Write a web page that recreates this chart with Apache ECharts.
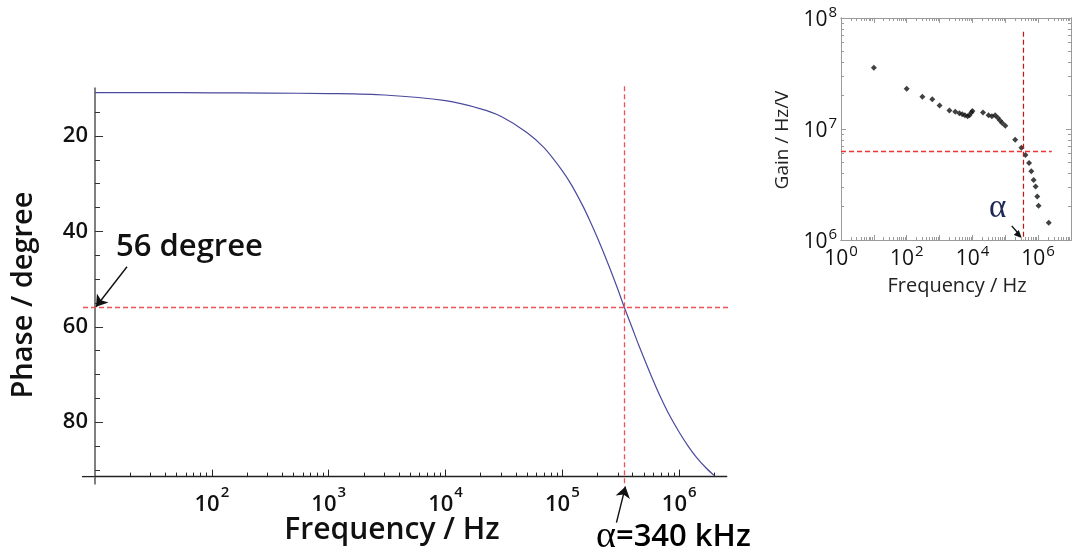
<!DOCTYPE html>
<html>
<head>
<meta charset="utf-8">
<script src="https://cdn.jsdelivr.net/npm/echarts@6/dist/echarts.min.js"></script>
<style>
  html, body { margin: 0; padding: 0; background: #fff; }
  #chart { width: 1072px; height: 557px; }
</style>
</head>
<body>
<div id="chart"></div>
<script>
// Phase response of the feedback loop (main panel)
const phaseFreq = [10, 30, 100, 300, 1000, 3000, 10000, 20000, 30000, 50000, 70000, 100000, 120000, 150000, 170000, 200000, 250000, 300000, 340000, 400000, 450000, 600000, 700000, 800000, 1000000, 1200000, 1400000, 1700000, 2000000];
const phaseDeg  = [10.9, 10.9, 10.95, 11.0, 11.1, 11.4, 12.6, 14.3, 15.9, 19.3, 22.5, 27.3, 30.3, 34.7, 37.5, 41.4, 47.2, 52.3, 56.0, 60.5, 63.8, 71.3, 75.0, 77.9, 82.1, 85.1, 87.3, 89.6, 91.2];

// Measured gain (inset panel)
const gainFreq = [10, 100, 300, 600, 1000, 2000, 3000, 4000, 4900, 5900, 7100, 8100, 9300, 10000, 21000, 31000, 39000, 49000, 59000, 69000, 81000, 100000, 200000, 310000, 410000, 530000, 620000, 730000, 840000, 940000, 1030000, 2100000];
const gainVal  = [3.56e7, 2.31e7, 1.95e7, 1.85e7, 1.63e7, 1.47e7, 1.43e7, 1.39e7, 1.36e7, 1.33e7, 1.30e7, 1.33e7, 1.41e7, 1.45e7, 1.41e7, 1.33e7, 1.30e7, 1.33e7, 1.26e7, 1.19e7, 1.13e7, 1.07e7, 8.0e6, 6.77e6, 5.82e6, 4.93e6, 4.17e6, 3.48e6, 3.03e6, 2.47e6, 2.04e6, 1.43e6];

// Tick values
const phaseTicks = [20, 40, 60, 80];
const phaseMinorTicks = [15, 25, 30, 35, 45, 50, 55, 65, 70, 75, 85, 90];
const freqTicks = [1e2, 1e3, 1e4, 1e5, 1e6];
const insetFreqTicks = [1, 1e1, 1e2, 1e3, 1e4, 1e5, 1e6, 1e7];
const insetFreqLabels = [1, 1e2, 1e4, 1e6];
const insetGainTicks = [1e6, 1e7, 1e8];

// Marked crossing point
const alphaFreq = 340000;
const alphaPhase = 56;
const alphaGain = 6.3e6;

// Axis ranges
const freqMin = 10, freqMax = 2.55e6;
const phaseMin = 10, phaseMax = 91.4;
const insetFreqMin = 1, insetFreqMax = 1e7;
const insetGainMin = 1e6, insetGainMax = 1e8;

const FONT = "'Open Sans', 'Noto Sans', sans-serif";
const SERIF = "'Liberation Serif', 'DejaVu Serif', serif";

// 2..9 x 10^n between lo and hi
function logMinors(lo, hi) {
  const out = [];
  for (let e = Math.floor(Math.log10(lo)); e <= Math.ceil(Math.log10(hi)); e++) {
    for (let k = 2; k <= 9; k++) {
      const v = k * Math.pow(10, e);
      if (v > lo && v < hi) out.push(v);
    }
  }
  return out;
}

function powLabel(v) {
  return '{b|10}{s|' + Math.round(Math.log10(v)) + '}';
}

const mainRich = {
  b: { fontFamily: FONT, fontSize: 22, fontWeight: 600, color: '#111', lineHeight: 30, verticalAlign: 'bottom' },
  s: { fontFamily: FONT, fontSize: 15, fontWeight: 600, color: '#111', lineHeight: 30, verticalAlign: 'top', padding: [0, 0, 0, 1] }
};
const insetRich = {
  b: { fontFamily: FONT, fontSize: 21, color: '#111', lineHeight: 26, verticalAlign: 'bottom' },
  s: { fontFamily: FONT, fontSize: 15, color: '#111', lineHeight: 26, verticalAlign: 'top', padding: [0, 0, 0, 1] }
};

const insetLine = { color: '#9a9a9a', width: 1 };

function insetXAxis(position, ticks, len, labels) {
  return {
    type: 'log', gridIndex: 1, position: position, offset: 0, min: insetFreqMin, max: insetFreqMax,
    axisLine: { show: true, onZero: false, lineStyle: insetLine },
    axisTick: { show: true, inside: true, length: len, customValues: ticks, lineStyle: insetLine },
    axisLabel: labels ? { show: true, customValues: insetFreqLabels, formatter: powLabel, rich: insetRich, margin: 4 } : { show: false },
    splitLine: { show: false }, minorTick: { show: false }
  };
}
function insetYAxis(position, ticks, len, labels) {
  return {
    type: 'log', gridIndex: 1, position: position, offset: 0, min: insetGainMin, max: insetGainMax,
    axisLine: { show: true, onZero: false, lineStyle: insetLine },
    axisTick: { show: true, inside: true, length: len, customValues: ticks, lineStyle: insetLine },
    axisLabel: labels ? { show: true, customValues: insetGainTicks, formatter: powLabel, rich: insetRich, margin: 4 } : { show: false },
    splitLine: { show: false }, minorTick: { show: false }
  };
}

const phaseData = phaseFreq.map((f, i) => [f, phaseDeg[i]]);
const gainData = gainFreq.map((f, i) => [f, gainVal[i]]);

const option = {
  animation: false,
  backgroundColor: '#fff',
  grid: [
    { left: 95, top: 88.3, width: 631.7, height: 388.3 },
    { left: 841, top: 18, width: 230, height: 222 }
  ],
  xAxis: [
    {
      type: 'log', gridIndex: 0, position: 'bottom', min: freqMin, max: freqMax,
      axisLine: { show: true, onZero: false, lineStyle: { color: '#222', width: 1.3 } },
      axisTick: { show: true, inside: true, length: 7, customValues: freqTicks, lineStyle: { color: '#222', width: 1 } },
      axisLabel: { show: true, customValues: freqTicks, formatter: powLabel, rich: mainRich, margin: 9 },
      splitLine: { show: false }
    },
    {
      type: 'log', gridIndex: 0, position: 'bottom', offset: 0, min: freqMin, max: freqMax,
      axisLine: { show: false, onZero: false },
      axisTick: { show: true, inside: true, length: 4, customValues: logMinors(freqMin, freqMax), lineStyle: { color: '#222', width: 1 } },
      axisLabel: { show: false }, splitLine: { show: false }
    },
    insetXAxis('bottom', insetFreqTicks, 5, true),
    insetXAxis('bottom', logMinors(insetFreqMin, insetFreqMax), 3, false),
    insetXAxis('top', insetFreqTicks, 5, false),
    insetXAxis('top', logMinors(insetFreqMin, insetFreqMax), 3, false)
  ],
  yAxis: [
    {
      type: 'value', gridIndex: 0, position: 'left', inverse: true, min: phaseMin, max: phaseMax,
      axisLine: { show: true, onZero: false, lineStyle: { color: '#808080', width: 2 } },
      axisTick: { show: true, inside: true, length: 8, customValues: phaseTicks, lineStyle: { color: '#333', width: 1 } },
      axisLabel: { show: true, customValues: phaseTicks, margin: 7, fontFamily: FONT, fontSize: 22, fontWeight: 600, color: '#111' },
      splitLine: { show: false }
    },
    {
      type: 'value', gridIndex: 0, position: 'left', offset: 0, inverse: true, min: phaseMin, max: phaseMax,
      axisLine: { show: false, onZero: false },
      axisTick: { show: true, inside: true, length: 5, customValues: phaseMinorTicks, lineStyle: { color: '#333', width: 1 } },
      axisLabel: { show: false }, splitLine: { show: false }
    },
    insetYAxis('left', insetGainTicks, 5, true),
    insetYAxis('left', logMinors(insetGainMin, insetGainMax), 3, false),
    insetYAxis('right', insetGainTicks, 5, false),
    insetYAxis('right', logMinors(insetGainMin, insetGainMax), 3, false)
  ],
  series: [
    {
      name: 'Phase', type: 'line', xAxisIndex: 0, yAxisIndex: 0,
      data: phaseData, smooth: 0.3, showSymbol: false,
      lineStyle: { color: '#4a4a9e', width: 1.2 },
      clip: true, z: 3
    },
    {
      name: 'Gain', type: 'scatter', xAxisIndex: 2, yAxisIndex: 2,
      data: gainData, symbol: 'diamond', symbolSize: 6,
      itemStyle: { color: '#111' }, z: 3
    }
  ]
};

const chart = echarts.init(document.getElementById('chart'), null, { renderer: 'canvas' });
chart.setOption(option);

// Guide lines, arrows and annotations placed from the axis scales
const P = (f, v) => chart.convertToPixel({ xAxisIndex: 0, yAxisIndex: 0 }, [f, v]);
const Q = (f, g) => chart.convertToPixel({ xAxisIndex: 2, yAxisIndex: 2 }, [f, g]);

const origin = P(freqMin, phaseMax);
const plotTop = P(freqMin, phaseMin)[1];
const plotRight = P(freqMax, phaseMax)[0];
const cross = P(alphaFreq, alphaPhase);
const insetCross = Q(alphaFreq, insetGainMin);
const insetH0 = Q(insetFreqMin, alphaGain);
const insetH1 = Q(2.6e6, alphaGain);
const insetVTop = Q(alphaFreq, 7.5e7);
const hY = Math.round(insetH0[1]) + 0.5;
const vX = Math.round(insetCross[0]) + 0.5;

const guideStyle = { color: '#f0505a', type: [5, 3], width: 1.3 };
const arrowStyle = { color: '#111', type: 'solid', width: 1.4 };

function seg(a, b, style) {
  return [ { x: a[0], y: a[1], lineStyle: style }, { x: b[0], y: b[1], lineStyle: style } ];
}
function arrow(a, b) {
  return [ { x: a[0], y: a[1], lineStyle: arrowStyle, symbol: 'none' },
           { x: b[0], y: b[1], lineStyle: arrowStyle, symbol: 'arrow', symbolSize: 11 } ];
}

chart.setOption({
  series: [
    {
      markLine: {
        silent: true, label: { show: false }, symbol: ['none', 'none'], symbolSize: 12,
        data: [
          seg([origin[0] - 12, cross[1]], [plotRight + 2, cross[1]], guideStyle),
          seg([cross[0], plotTop - 2], [cross[0], origin[1] + 10], guideStyle),
          arrow([origin[0] + 32, cross[1] - 41], [origin[0] + 1, cross[1] - 1]),
          arrow([cross[0] - 8, origin[1] + 46], [cross[0] + 1, origin[1] + 10])
        ]
      }
    },
    {}
  ],
  graphic: [
    // axis lines meeting past the origin
    { type: 'line', shape: { x1: origin[0] - 13, y1: origin[1], x2: origin[0], y2: origin[1] }, style: { stroke: '#222', lineWidth: 1.3 } },
    { type: 'line', shape: { x1: origin[0], y1: origin[1], x2: origin[0], y2: origin[1] + 8 }, style: { stroke: '#808080', lineWidth: 2 } },
    // inset guide lines through the crossing point
    { type: 'line', z: 10, shape: { x1: insetH0[0], y1: hY, x2: insetH1[0], y2: hY }, style: { stroke: '#ee3333', lineWidth: 1.3, lineDash: [5, 3] } },
    { type: 'line', z: 10, shape: { x1: vX, y1: insetVTop[1], x2: vX, y2: insetCross[1] }, style: { stroke: '#cc1111', lineWidth: 1.2, lineDash: [5, 3] } },
    // inset arrow to the crossing frequency
    { type: 'line', shape: { x1: insetCross[0] - 11, y1: insetCross[1] - 14, x2: insetCross[0] - 3, y2: insetCross[1] - 5 }, style: { stroke: '#111', lineWidth: 1.3 } },
    { type: 'polygon', shape: { points: [[insetCross[0] - 1, insetCross[1] - 2], [insetCross[0] - 9, insetCross[1] - 5], [insetCross[0] - 4, insetCross[1] - 10]] }, style: { fill: '#111' } },
    // axis titles
    { type: 'text', x: 392, y: 530, style: { text: 'Frequency / Hz', font: '600 30px ' + FONT, fill: '#111', align: 'center', verticalAlign: 'middle' } },
    { type: 'text', x: 24, y: 295, rotation: Math.PI / 2, style: { text: 'Phase / degree', font: '600 29px ' + FONT, fill: '#111', align: 'center', verticalAlign: 'middle' } },
    { type: 'text', x: 957, y: 286, style: { text: 'Frequency / Hz', font: '20px ' + FONT, fill: '#222', align: 'center', verticalAlign: 'middle' } },
    { type: 'text', x: 783, y: 140, rotation: Math.PI / 2, style: { text: 'Gain / Hz/V', font: '19px ' + FONT, fill: '#222', align: 'center', verticalAlign: 'middle' } },
    // annotations
    { type: 'text', x: 116, y: 247, style: { text: '56 degree', font: '600 31px ' + FONT, fill: '#111', align: 'left', verticalAlign: 'middle' } },
    { type: 'text', x: 596, y: 537, style: {
        text: '{a|α}{t|=340 kHz}', align: 'left', verticalAlign: 'middle',
        rich: {
          a: { fontFamily: SERIF, fontSize: 38, color: '#111' },
          t: { fontFamily: FONT, fontSize: 31, fontWeight: 600, color: '#111' }
        } } },
    { type: 'text', x: 989, y: 208, style: { text: 'α', font: '33px ' + SERIF, fill: '#1d2756', align: 'left', verticalAlign: 'middle' } }
  ]
});
</script>
</body>
</html>
